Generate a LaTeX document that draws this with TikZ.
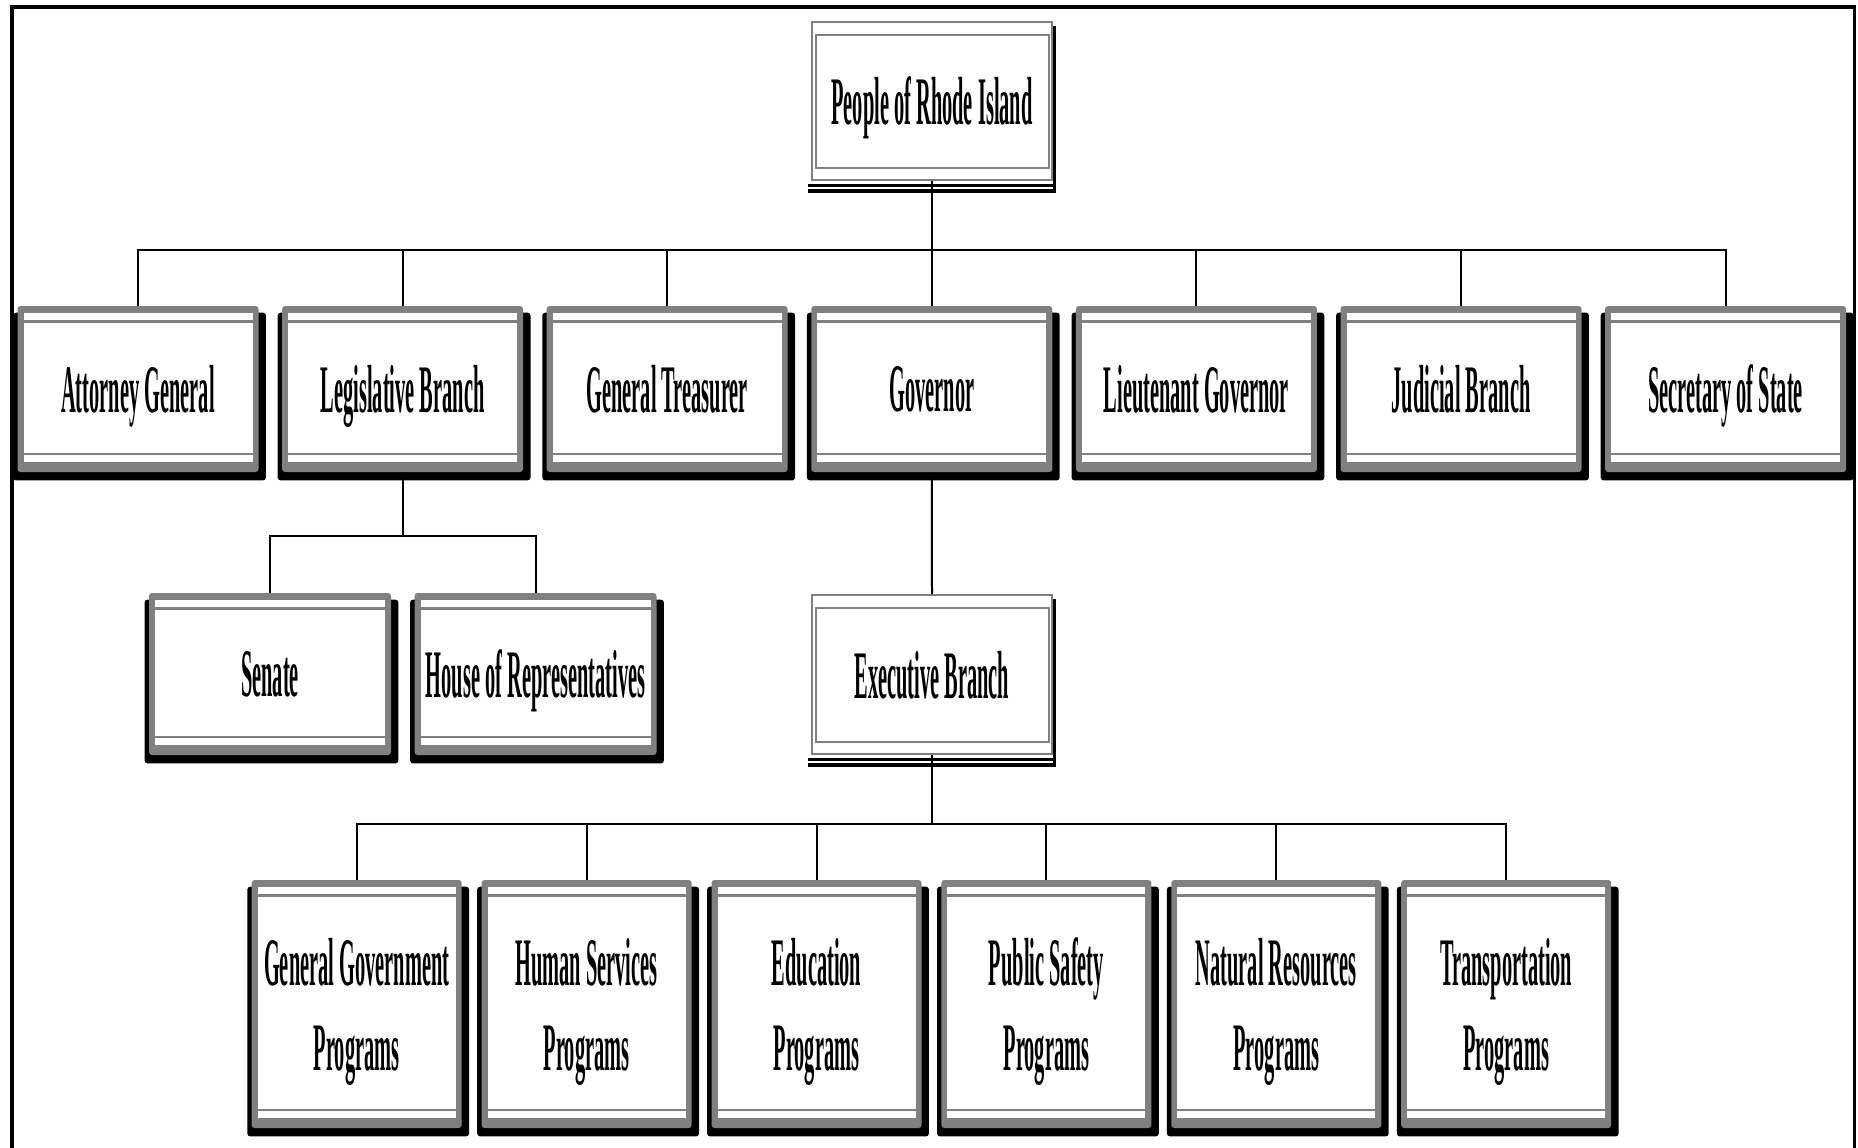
\documentclass[tikz,border=0pt]{standalone}
\usepackage{fontspec}
\newfontfamily\orgfont{Liberation Serif}[FakeStretch=0.30]
\pgfdeclarelayer{background}
\pgfsetlayers{background,main}
\definecolor{framegray}{RGB}{128,128,128}
\tikzset{
  orgtext/.style={font=\orgfont\bfseries\fontsize{34}{42.5}\selectfont, align=center, text=black, text depth=0pt},
  orgbox/.style={rectangle, fill=framegray, rounded corners=1.5pt, inner sep=0pt, orgtext,
    path picture={
      \fill[white, sharp corners] ([xshift=3pt,yshift=-3.5pt]path picture bounding box.north west) rectangle ([xshift=-3pt,yshift=5pt]path picture bounding box.south east);
      \fill[framegray, sharp corners] ([xshift=3pt,yshift=-7pt]path picture bounding box.north west) rectangle ([xshift=-3pt,yshift=-8.25pt]path picture bounding box.north east);
      \fill[framegray, sharp corners] ([xshift=3pt,yshift=8.5pt]path picture bounding box.south west) rectangle ([xshift=-3pt,yshift=9.75pt]path picture bounding box.south east);
    },
    append after command={\pgfextra{\begin{pgfonlayer}{background}
      \fill[black, rounded corners=1.5pt] ([xshift=-2pt,yshift=-3.5pt]\tikzlastnode.north west) rectangle ([xshift=3.5pt,yshift=-4pt]\tikzlastnode.south east);
    \end{pgfonlayer}}}
  },
  topbox/.style={orgbox, minimum width=120.5pt, minimum height=83pt},
  midbox/.style={orgbox, minimum width=121pt, minimum height=81pt},
  progbox/.style={orgbox, minimum width=105pt, minimum height=124pt},
  plainbox/.style={rectangle, draw=framegray, line width=1pt, fill=white, inner sep=0pt, orgtext,
    minimum width=120pt, minimum height=79pt,
    path picture={\draw[framegray, line width=1pt] ([xshift=1.75pt,yshift=-6.5pt]path picture bounding box.north west) rectangle ([xshift=-1.75pt,yshift=6pt]path picture bounding box.south east);},
    append after command={\pgfextra{\begin{pgfonlayer}{background}
      \fill[black] ([xshift=-1.5pt,yshift=-1.5pt]\tikzlastnode.south west) rectangle ([xshift=1.5pt,yshift=-6pt]\tikzlastnode.south east);
      \fill[black] ([yshift=-2.5pt]\tikzlastnode.north east) rectangle ([xshift=1.5pt,yshift=-6pt]\tikzlastnode.south east);
      \fill[white] ([xshift=-1.5pt,yshift=-3pt]\tikzlastnode.south west) rectangle ([yshift=-3.75pt]\tikzlastnode.south east);
    \end{pgfonlayer}}}
  },
  conn/.style={draw=black, line width=1pt},
  frameline/.style={draw=black, line width=1.75pt}
}
\begin{document}
\begin{tikzpicture}[x=0.5pt, y=-0.5pt]
\useasboundingbox (0,0) rectangle (1858,1147);
\draw[frameline] (11.75,7.2) rectangle (1854.3,1170);

% top
\node[plainbox] (people) at (932,101) {People of Rhode Island};

% row 1
\node[topbox] (ag)    at (138,389)    {Attorney General};
\node[topbox] (leg)   at (402.6,389)  {Legislative Branch};
\node[topbox] (treas) at (667.2,389)  {General Treasurer};
\node[topbox] (gov)   at (931.8,389)  {Governor};
\node[topbox] (ltgov) at (1196.4,389) {Lieutenant Governor};
\node[topbox] (jud)   at (1461,389)   {Judicial Branch};
\node[topbox] (sos)   at (1725.6,389) {Secretary of State};

% row 2
\node[midbox] (senate) at (270,674)   {Senate};
\node[midbox] (house)  at (535.5,674) {House of Representatives};
\node[plainbox, minimum height=79.5pt] (exec) at (932,674.5) {Executive Branch};

% row 3
\node[progbox] (gg) at (356.7,1004)  {General Government\\Programs};
\node[progbox] (hs) at (586.6,1004)  {Human Services\\Programs};
\node[progbox] (ed) at (816.5,1004)  {Education\\Programs};
\node[progbox] (ps) at (1046.4,1004) {Public Safety\\Programs};
\node[progbox] (nr) at (1276.3,1004) {Natural Resources\\Programs};
\node[progbox] (tr) at (1506.2,1004) {Transportation\\Programs};

% connectors
\coordinate (b1) at (932,250);
\coordinate (b2) at (402.6,535.6);
\coordinate (b3) at (932,823.6);

\draw[conn] (people.south) -- (b1);
\foreach \n in {ag,leg,treas,gov,ltgov,jud,sos} \draw[conn] (b1) -| (\n.north);

\draw[conn] (leg.south) -- (b2);
\draw[conn] (b2) -| (senate.north);
\draw[conn] (b2) -| (house.north);

\draw[conn] (gov.south) -- (exec.north);

\draw[conn] (exec.south) -- (b3);
\foreach \n in {gg,hs,ed,ps,nr,tr} \draw[conn] (b3) -| (\n.north);
\end{tikzpicture}
\end{document}
